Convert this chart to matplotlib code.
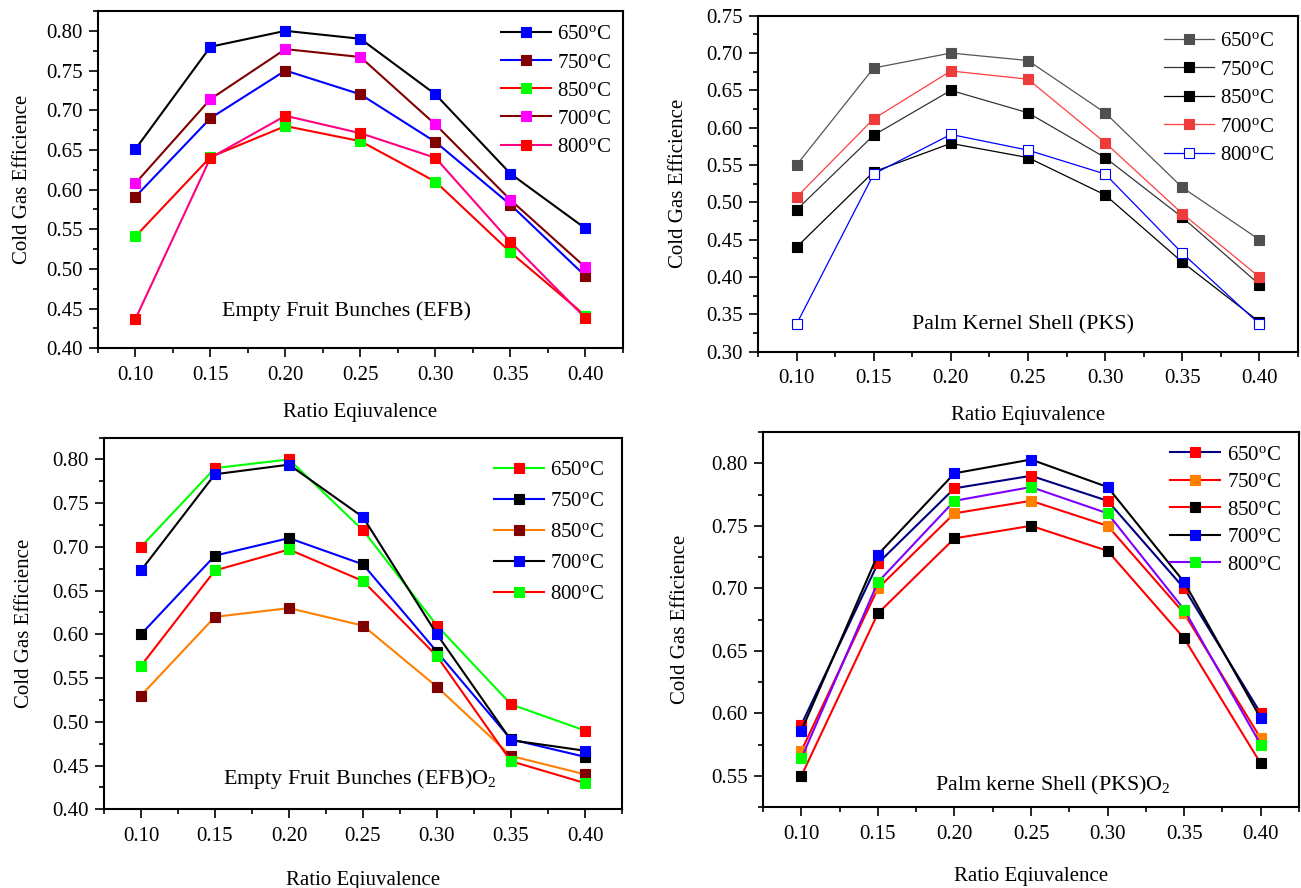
"""Cold gas efficiency vs equivalence ratio, four feedstock panels."""

import matplotlib
matplotlib.use("Agg")
import matplotlib.pyplot as plt
from matplotlib.ticker import MultipleLocator, FormatStrFormatter

plt.rcParams["font.family"] = ["Liberation Serif", "DejaVu Serif"]
plt.rcParams["mathtext.fontset"] = "custom"
plt.rcParams["mathtext.rm"] = "Liberation Serif"
plt.rcParams["mathtext.it"] = "Liberation Serif:italic"

# ---- data ----
ratio = [0.10, 0.15, 0.20, 0.25, 0.30, 0.35, 0.40]
temp_labels = ["650", "750", "850", "700", "800"]

# Empty Fruit Bunches (EFB)
efb_650 = [0.651, 0.780, 0.800, 0.790, 0.720, 0.620, 0.551]
efb_750 = [0.591, 0.690, 0.750, 0.720, 0.660, 0.581, 0.491]
efb_850 = [0.541, 0.641, 0.680, 0.661, 0.610, 0.521, 0.441]
efb_700 = [0.608, 0.714, 0.777, 0.767, 0.682, 0.587, 0.502]
efb_800 = [0.437, 0.640, 0.693, 0.671, 0.640, 0.534, 0.438]

# Palm Kernel Shell (PKS)
pks_650 = [0.550, 0.680, 0.700, 0.690, 0.620, 0.520, 0.450]
pks_750 = [0.490, 0.590, 0.650, 0.620, 0.560, 0.480, 0.390]
pks_850 = [0.440, 0.541, 0.579, 0.560, 0.510, 0.420, 0.340]
pks_700 = [0.507, 0.612, 0.676, 0.665, 0.580, 0.485, 0.400]
pks_800 = [0.337, 0.538, 0.591, 0.570, 0.538, 0.432, 0.337]

# Empty Fruit Bunches (EFB) O2
efbo2_650 = [0.700, 0.790, 0.800, 0.719, 0.610, 0.520, 0.490]
efbo2_750 = [0.600, 0.690, 0.710, 0.680, 0.580, 0.480, 0.460]
efbo2_850 = [0.530, 0.620, 0.630, 0.610, 0.540, 0.461, 0.440]
efbo2_700 = [0.673, 0.783, 0.794, 0.734, 0.600, 0.479, 0.467]
efbo2_800 = [0.564, 0.673, 0.697, 0.661, 0.575, 0.455, 0.430]

# Palm kernel Shell (PKS) O2
pkso2_650 = [0.591, 0.720, 0.780, 0.790, 0.770, 0.700, 0.600]
pkso2_750 = [0.570, 0.700, 0.760, 0.770, 0.750, 0.680, 0.580]
pkso2_850 = [0.550, 0.680, 0.740, 0.750, 0.730, 0.660, 0.560]
pkso2_700 = [0.586, 0.727, 0.792, 0.803, 0.781, 0.705, 0.596]
pkso2_800 = [0.564, 0.705, 0.770, 0.781, 0.760, 0.683, 0.575]

# ---- styles: (line colour, marker face, marker edge) per series ----
STY_EFB = [("#000000", "#0000ff", "#0000ff"),
           ("#0000ff", "#800000", "#800000"),
           ("#ff0000", "#00ff00", "#00ff00"),
           ("#800000", "#ff00ff", "#ff00ff"),
           ("#ff0080", "#ff0000", "#ff0000")]
STY_PKS = [("#555555", "#505050", "#505050"),
           ("#333333", "#000000", "#000000"),
           ("#000000", "#000000", "#000000"),
           ("#ff4040", "#ee3b3b", "#ee3b3b"),
           ("#0000ff", "#ffffff", "#0000ff")]
STY_EFBO2 = [("#00ff00", "#ff0000", "#ff0000"),
             ("#0000ff", "#000000", "#000000"),
             ("#ff8000", "#800000", "#800000"),
             ("#000000", "#0000ff", "#0000ff"),
             ("#ff0000", "#00ff00", "#00ff00")]
STY_PKSO2 = [("#000080", "#ff0000", "#ff0000"),
             ("#ff0000", "#ff8000", "#ff8000"),
             ("#ff0000", "#000000", "#000000"),
             ("#000000", "#0000ff", "#0000ff"),
             ("#8000ff", "#00ff00", "#00ff00")]


def draw_panel(ax, series, styles, lw, ylim, note, note_xy, leg_xy,
               leg_space, ylab_x, xlab_y):
    for vals, lab, (lc, mfc, mec) in zip(series, temp_labels, styles):
        ax.plot(ratio, vals, color=lc, lw=lw, marker="s", ms=7.5,
                mfc=mfc, mec=mec, mew=0.8,
                label=lab + r"$^\mathrm{o}$C")

    ax.set_xlim(0.075, 0.425)
    ax.set_ylim(*ylim)
    ax.xaxis.set_major_locator(MultipleLocator(0.05))
    ax.xaxis.set_minor_locator(MultipleLocator(0.025))
    ax.yaxis.set_major_locator(MultipleLocator(0.05))
    ax.yaxis.set_minor_locator(MultipleLocator(0.025))
    ax.xaxis.set_major_formatter(FormatStrFormatter("%.2f"))
    ax.yaxis.set_major_formatter(FormatStrFormatter("%.2f"))
    ax.tick_params(which="major", direction="out", length=6.5, width=1.2,
                   labelsize=15)
    ax.tick_params(which="minor", direction="out", length=3.5, width=1.2)
    ax.tick_params(axis="x", pad=6)
    ax.tick_params(axis="y", pad=4.5)
    for sp in ax.spines.values():
        sp.set_linewidth(1.5)

    ax.set_xlabel("Ratio Eqiuvalence", fontsize=15)
    ax.set_ylabel("Cold Gas Efficience", fontsize=15)
    ax.xaxis.set_label_coords(0.5, xlab_y)
    ax.yaxis.set_label_coords(ylab_x, 0.5)

    ax.text(note_xy[0], note_xy[1], note, transform=ax.transAxes,
            ha="center", va="center", fontsize=15.8)

    ax.legend(loc="upper right", bbox_to_anchor=leg_xy, frameon=False,
              fontsize=15, borderpad=0, handlelength=2.4,
              handletextpad=0.3, labelspacing=leg_space, numpoints=1)


def main():
    fig = plt.figure(figsize=(13.01, 8.88), dpi=100)

    ax1 = fig.add_axes([0.0753, 0.6078, 0.4035, 0.3798])
    ax2 = fig.add_axes([0.5826, 0.6039, 0.4151, 0.3784])
    ax3 = fig.add_axes([0.0799, 0.0886, 0.3982, 0.4187])
    ax4 = fig.add_axes([0.5865, 0.0909, 0.4120, 0.4226])

    draw_panel(ax1, [efb_650, efb_750, efb_850, efb_700, efb_800], STY_EFB,
               1.5, (0.40, 0.825), "Empty Fruit Bunches (EFB)",
               (0.474, 0.111), (0.998, 0.99), 0.41, -0.126, -0.162)
    draw_panel(ax2, [pks_650, pks_750, pks_850, pks_700, pks_800], STY_PKS,
               0.9, (0.30, 0.75), "Palm Kernel Shell (PKS)",
               (0.490, 0.079), (0.975, 0.984), 0.43, -0.13, -0.162)
    draw_panel(ax3, [efbo2_650, efbo2_750, efbo2_850, efbo2_700, efbo2_800],
               STY_EFBO2, 1.5, (0.40, 0.825),
               r"Empty Fruit Bunches (EFB)O$_2$",
               (0.494, 0.081), (0.985, 0.966), 0.55, -0.135, -0.165)
    draw_panel(ax4, [pkso2_650, pkso2_750, pkso2_850, pkso2_700, pkso2_800],
               STY_PKSO2, 1.5, (0.525, 0.825),
               r"Palm kerne Shell (PKS)O$_2$",
               (0.541, 0.057), (0.985, 0.993), 0.38, -0.136, -0.159)

    fig.savefig("out.png", dpi=100)
    plt.close(fig)


if __name__ == "__main__":
    main()
